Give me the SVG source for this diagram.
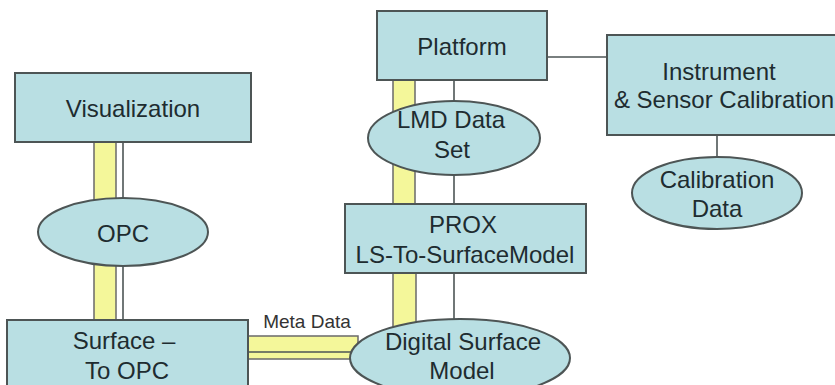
<svg xmlns="http://www.w3.org/2000/svg" width="835" height="385" viewBox="0 0 835 385">
<style>
.box{fill:#b9dfe3;stroke:#4d5555;stroke-width:2}
.ell{fill:#b9dfe3;stroke:#4d5555;stroke-width:2}
.band{fill:#f4f79a;stroke:#6a6a6a;stroke-width:1.5}
.ln{stroke:#4d5555;stroke-width:1.6;fill:none}
text{font-family:"Liberation Sans",Arial,sans-serif;font-size:24px;fill:#1e2c30;text-anchor:middle}
.small{font-size:19px;fill:#333}
</style>
<rect width="835" height="385" fill="#ffffff"/>
<g id="connectors">
<rect class="band" x="94" y="142" width="22" height="178"/>
<line class="ln" x1="123" y1="142" x2="123" y2="320"/>
<rect class="band" x="393" y="80" width="22" height="124"/>
<line class="ln" x1="454" y1="80" x2="454" y2="204"/>
<rect class="band" x="393" y="273" width="23" height="60"/>
<line class="ln" x1="454" y1="273" x2="454" y2="330"/>
<rect class="band" x="248" y="336" width="110" height="23"/>
<line class="ln" x1="248" y1="352" x2="358" y2="352"/>
<line class="ln" x1="547" y1="57" x2="607" y2="57"/>
<line class="ln" x1="717" y1="135" x2="717" y2="158"/>
<text class="small" x="307" y="328">Meta Data</text>
</g>
<g id="visualization">
<rect class="box" x="15" y="73" width="236" height="69"/>
<text x="133" y="117">Visualization</text>
</g>
<g id="opc">
<ellipse class="ell" cx="123" cy="232" rx="85" ry="34"/>
<text x="123" y="242">OPC</text>
</g>
<g id="surface-to-opc">
<rect class="box" x="7" y="320" width="241" height="75"/>
<text x="124" y="349">Surface –</text>
<text x="127" y="379">To OPC</text>
</g>
<g id="platform">
<rect class="box" x="377" y="11" width="170" height="69"/>
<text x="462" y="55">Platform</text>
</g>
<g id="lmd">
<ellipse class="ell" cx="454" cy="138" rx="86" ry="37"/>
<text x="451" y="128">LMD Data</text>
<text x="452" y="158">Set</text>
</g>
<g id="prox">
<rect class="box" x="345" y="204" width="241" height="69"/>
<text x="463" y="233">PROX</text>
<text x="465" y="263">LS-To-SurfaceModel</text>
</g>
<g id="dsm">
<ellipse class="ell" cx="460" cy="358" rx="110" ry="39"/>
<text x="463" y="350">Digital Surface</text>
<text x="462" y="379">Model</text>
</g>
<g id="instrument">
<rect class="box" x="607" y="35" width="240" height="100"/>
<text x="719" y="80">Instrument</text>
<text x="724" y="108">&amp; Sensor Calibration</text>
</g>
<g id="calibration">
<ellipse class="ell" cx="717" cy="193" rx="85" ry="36"/>
<text x="717" y="188">Calibration</text>
<text x="717" y="217">Data</text>
</g>
</svg>
